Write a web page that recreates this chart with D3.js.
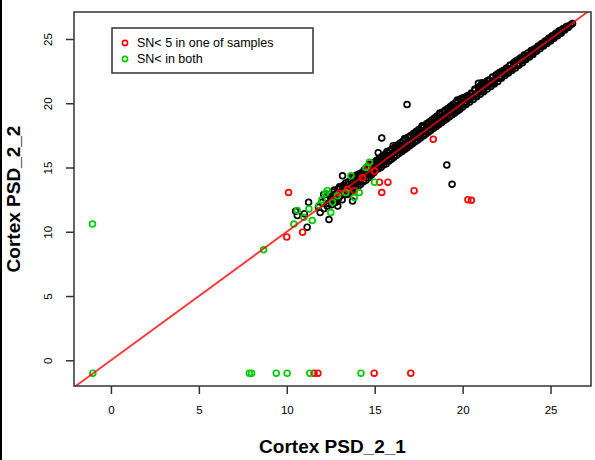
<!DOCTYPE html>
<html><head><meta charset="utf-8">
<script src="https://cdn.jsdelivr.net/npm/d3@7"></script>
<style>body{margin:0;background:#fff}svg{display:block}text{font-family:"Liberation Sans",Arial,sans-serif}</style>
</head><body>
<script>
// ---- data ----
const xTicks = [0, 5, 10, 15, 20, 25];
const yTicks = [0, 5, 10, 15, 20, 25];
const xTitle = "Cortex PSD_2_1";
const yTitle = "Cortex PSD_2_2";
const legendLabels = ["SN< 5 in one of samples", "SN< in both"];

const blackPoints = [
[11.8,11.9],[11.9,11.5],[12.0,12.3],[12.1,11.8],[12.2,12.6],[12.3,12.0],[12.35,12.9],[12.4,12.2],[12.5,12.7],[12.55,12.1],
[12.6,13.1],[12.7,12.4],[12.75,12.9],[12.8,12.3],[12.9,13.3],[12.95,12.6],[13.0,13.5],[13.05,12.8],[13.1,13.0],[13.15,12.5],
[13.2,13.6],[13.25,13.1],[13.3,12.9],[13.35,13.8],[13.4,13.3],[13.45,12.9],[13.5,13.9],[13.55,13.4],[13.6,13.1],[13.65,14.0],
[13.7,13.6],[13.75,13.2],[13.8,14.2],[13.85,13.7],[13.9,13.4],[13.95,14.4],[14.0,13.9],[14.05,13.5],[14.1,14.5],[14.15,14.0],
[14.2,13.7],[14.25,14.6],[14.3,14.2],[14.35,13.9],[14.4,14.8],[14.45,14.4],[14.5,14.0],[14.55,14.9],[14.6,14.5],[14.65,14.2],
[14.7,15.1],[14.75,14.7],[14.8,14.4],[14.85,15.2],[14.9,14.9],[14.95,14.6],[15.0,15.3],
[15.05,14.8],[15.1,15.55],[15.15,15.1],[15.2,14.9],[15.25,15.7],[15.3,15.2],[15.35,15.0],[15.4,15.85],[15.45,15.4],[15.5,15.2],
[15.55,16.0],[15.6,15.6],[15.65,15.3],[15.7,16.15],[15.75,15.8],[15.8,15.5],[15.85,16.3],[15.9,15.95],[15.95,15.65],[16.0,16.45],
[16.05,16.1],[16.1,15.8],[16.15,16.6],[16.2,16.25],[16.25,15.95],[16.3,16.75],[16.35,16.4],[16.4,16.1],[16.45,16.9],[16.5,16.55],
[16.55,16.25],[16.6,17.05],[16.65,16.7],[16.7,16.4],[16.75,17.2],[16.8,16.85],[16.85,16.55],[16.9,17.35],[16.95,17.0],[17.0,16.7],
[17.05,17.5],[17.1,17.15],[17.15,16.85],[17.2,17.65],[17.25,17.3],[17.3,17.0],[17.35,17.8],[17.4,17.45],[17.45,17.15],[17.5,17.95],
[17.55,17.6],[17.6,17.3],[17.65,18.1],[17.7,17.75],[17.75,17.45],[17.8,18.25],[17.85,17.9],[17.9,17.6],[17.95,18.4],[18.0,18.05],
[18.05,17.75],[18.1,18.55],[18.15,18.2],[18.2,17.9],[18.25,18.7],[18.3,18.35],[18.35,18.05],[18.4,18.85],[18.45,18.5],[18.5,18.2],
[18.55,19.0],[18.6,18.65],[18.65,18.35],[18.7,19.15],[18.75,18.8],[18.8,18.5],[18.85,19.3],[18.9,18.95],[18.95,18.65],[19.0,19.45],
[19.05,19.1],[19.1,18.8],[19.15,19.6],[19.2,19.25],[19.25,18.95],[19.3,19.75],[19.35,19.4],[19.4,19.1],[19.45,19.9],[19.5,19.55],
[19.55,19.25],[19.6,20.05],[19.65,19.7],[19.7,19.4],[19.75,20.2],[19.8,19.85],[19.85,19.55],[19.9,20.35],[19.95,20.0],[20.0,19.7],
[20.1,20.45],[20.15,20.1],[20.2,19.9],[20.3,20.6],[20.35,20.25],[20.4,20.1],[20.5,20.8],[20.55,20.5],[20.6,20.3],[20.7,21.0],
[20.75,20.7],[20.8,20.5],[20.9,21.2],[20.95,20.9],[21.0,20.7],[21.1,21.45],[21.15,21.1],[21.2,20.9],[21.3,21.6],[21.35,21.3],
[21.4,21.1],[21.5,21.8],[21.55,21.5],[21.6,21.3],[21.7,22.0],[21.75,21.7],[21.8,21.5],[21.9,22.2],[21.95,21.9],[22.0,21.7],
[22.1,22.4],[22.15,22.1],[22.2,21.95],[22.3,22.55],[22.35,22.3],[22.4,22.15],[22.5,22.75],[22.55,22.5],[22.6,22.35],[22.7,22.95],
[22.75,22.7],[22.8,22.55],[22.9,23.15],[22.95,22.9],[23.0,22.75],[23.1,23.35],[23.15,23.1],[23.2,22.95],[23.3,23.55],[23.35,23.3],
[23.4,23.15],[23.5,23.75],[23.55,23.5],[23.6,23.4],[23.7,23.9],[23.75,23.7],[23.8,23.6],[23.9,24.1],[23.95,23.9],[24.0,23.8],
[24.1,24.25],[24.2,24.05],[24.3,24.45],[24.4,24.25],[24.5,24.65],[24.6,24.45],[24.7,24.85],[24.8,24.65],[24.9,25.05],[25.0,24.85],
[25.1,25.25],[25.2,25.05],[25.3,25.45],[25.4,25.25],[25.5,25.65],[25.6,25.45],[25.7,25.8],[25.8,25.7],[25.9,25.95],[26.0,25.9],
[20.9,21.55],[21.4,21.75],[21.1,21.6],
[15.4,17.3],[16.05,16.7],[15.2,16.15],[19.1,15.2],[19.4,13.7],[16.84,19.9],
[11.24,12.3],[10.6,11.27],[12.4,10.96],[11.16,10.36],[13.74,12.4],[13.17,14.35],[10.5,11.6],[11.0,11.4],[12.1,12.9],[12.9,12.0]
];

const blackFill = [
[12.5,12.7],[12.6,12.5],[12.7,13.25],[12.8,12.5],[12.9,12.95],[13.0,13.4],[13.1,12.9],[13.2,13.5],[13.3,13.4],[13.4,13.35],
[13.5,13.7],[13.6,13.5],[13.7,14.25],[13.8,13.5],[13.9,13.95],[14.0,14.4],[14.1,13.9],[14.2,14.5],[14.3,14.4],[14.4,14.35],
[14.5,14.7],[14.6,14.5],[14.7,15.25],[14.8,14.5],[14.9,14.95],[15.0,15.4],[15.1,14.9],[15.2,15.5],[15.3,15.4],[15.4,15.35],
[15.5,15.7],[15.6,15.5],[15.7,16.25],[15.8,15.5],[15.9,15.95],[16.0,16.4],[16.1,15.9],[16.2,16.5],[16.3,16.4],[16.4,16.35],
[16.5,16.7],[16.6,16.5],[16.7,17.25],[16.8,16.5],[16.9,16.95],[17.0,17.4],[17.1,16.9],[17.2,17.5],[17.3,17.4],[17.4,17.35],
[17.5,17.7],[17.6,17.5],[17.7,18.25],[17.8,17.5],[17.9,17.95],[18.0,18.4],[18.1,17.9],[18.2,18.5],[18.3,18.4],[18.4,18.35],
[18.5,18.7],[18.6,18.5],[18.7,19.25],[18.8,18.5],[18.9,18.95],[19.0,19.4],[19.1,18.9],[19.2,19.5],[19.3,19.4],[19.4,19.35],
[19.5,19.7],[19.6,19.5],[19.7,20.25],[19.8,19.5],[19.9,19.95],[20.0,20.4],[20.1,19.9],[20.2,20.5],[20.3,20.4],[20.4,20.35],
[20.5,20.7],[20.6,20.5],[20.7,21.1],[20.8,20.55],[20.9,20.95],[21.0,21.35],[21.1,20.9],[21.2,21.45],[21.3,21.4],[21.4,21.35],
[21.5,21.7],[21.6,21.5],[21.7,22.05],[21.8,21.6],[21.9,21.95],[22.0,22.3],[22.1,21.95],[22.2,22.45],[22.3,22.4],[22.4,22.35],
[22.5,22.65],[22.6,22.5],[22.7,22.95],[22.8,22.65],[22.9,22.95],[23.0,23.25],[23.1,22.95],[23.2,23.4],[23.3,23.35],[23.4,23.35],
[23.5,23.65],[23.6,23.55],[23.7,23.9],[23.8,23.7],[23.9,23.95],[24.0,24.15],[24.15,24.1],[24.25,24.35],[24.35,24.35],[24.45,24.55],
[24.55,24.55],[24.65,24.75],[24.75,24.75],[24.85,24.95],[24.95,24.95],[25.05,25.15],[25.15,25.15],[25.25,25.35],[25.35,25.35],[25.45,25.55],
[25.55,25.55],[25.65,25.7],[25.75,25.8],[25.85,25.85],[25.95,26.0],[26.05,26.0],[26.15,26.1],[26.25,26.2]
];

const redPoints = [
[10.1,13.06],[10.0,9.6],[10.9,9.97],[13.45,13.3],[13.84,13.2],[14.6,15.1],[15.0,14.7],[15.27,13.86],[15.75,13.86],
[15.4,13.06],[17.24,13.2],[20.3,12.5],[20.5,12.45],[18.33,17.2],[13.0,13.0],[14.3,14.2],
[11.55,-1],[11.77,-1],[14.97,-1],[17.05,-1]
];

const greenPoints = [
[-1.03,-1],[-1.05,10.6],[8.68,8.6],[10.4,10.6],[10.6,11.65],[11.26,11.78],[11.83,12.04],[12.31,13.2],[12.6,12.3],[12.5,11.5],
[12.88,12.8],[13.65,14.35],[14.12,13.06],[14.5,15.0],[14.7,15.4],[14.99,13.86],[13.36,13.06],[13.84,12.67],[10.97,11.13],[11.45,10.88],
[12.0,12.5],[12.2,13.0],
[7.87,-1],[8.0,-1],[9.4,-1],[10.02,-1],[11.31,-1],[14.22,-1]
];

// ---- chart ----
const W = 595, H = 460;
const frame = {left: 74, right: 591, top: 12, bottom: 386};
const svg = d3.select("body").append("svg").attr("width", W).attr("height", H);

const x = d3.scaleLinear().domain([-2.1, 27.3]).range([frame.left, frame.right]);
const y = d3.scaleLinear().domain([-2.0, 27.1]).range([frame.bottom, frame.top]);

// image left border
svg.append("line").attr("x1",1).attr("x2",1).attr("y1",0).attr("y2",H).attr("stroke","#000").attr("stroke-width",2);

const clipId = "plotclip";
svg.append("clipPath").attr("id", clipId).append("rect")
  .attr("x", frame.left).attr("y", frame.top)
  .attr("width", frame.right - frame.left).attr("height", frame.bottom - frame.top);

const plot = svg.append("g").attr("clip-path", `url(#${clipId})`);

function drawPts(data, color) {
  plot.append("g").selectAll("circle").data(data).join("circle")
    .attr("cx", d => x(d[0])).attr("cy", d => y(d[1])).attr("r", 2.9)
    .attr("fill", "none").attr("stroke", color).attr("stroke-width", 1.7);
}
drawPts(blackPoints, "#000");
drawPts(blackFill, "#000");
drawPts(redPoints, "#ff0000");
drawPts(greenPoints, "#00cc00");

// identity line
const lo = -5, hi = 30;
plot.append("line").attr("x1", x(lo)).attr("y1", y(lo)).attr("x2", x(hi)).attr("y2", y(hi))
  .attr("stroke", "#ff0000").attr("stroke-opacity", 0.8).attr("stroke-width", 1.8);

// frame
svg.append("rect").attr("x", frame.left).attr("y", frame.top)
  .attr("width", frame.right - frame.left).attr("height", frame.bottom - frame.top)
  .attr("fill", "none").attr("stroke", "#333").attr("stroke-width", 1.5);

// axes
const xAxis = svg.append("g").attr("transform", `translate(0,${frame.bottom})`)
  .call(d3.axisBottom(x).tickValues(xTicks).tickSize(8).tickPadding(12).tickFormat(d3.format("d")));
const yAxis = svg.append("g").attr("transform", `translate(${frame.left},0)`)
  .call(d3.axisLeft(y).tickValues(yTicks).tickSize(8).tickPadding(0).tickFormat(d3.format("d")));
[xAxis, yAxis].forEach(a => {
  a.select(".domain").remove();
  a.selectAll(".tick line").attr("stroke", "#333").attr("stroke-width", 1.5);
  a.selectAll("text").attr("font-size", 11.5).attr("fill", "#000").attr("font-family", "Liberation Sans, Arial, sans-serif");
});
yAxis.selectAll(".tick text").attr("x", null).attr("dy", null)
  .attr("text-anchor", "middle")
  .attr("transform", "translate(-26,0) rotate(-90)")
  .attr("y", 4);

// titles
svg.append("text").attr("x", (frame.left + frame.right) / 2).attr("y", 453)
  .attr("text-anchor", "middle").attr("font-weight", "bold").attr("font-size", 19).text(xTitle);
svg.append("text").attr("transform", `translate(20,${(frame.top + frame.bottom) / 2}) rotate(-90)`)
  .attr("text-anchor", "middle").attr("font-weight", "bold").attr("font-size", 19).text(yTitle);

// legend
const lg = svg.append("g");
lg.append("rect").attr("x", 112).attr("y", 28).attr("width", 201).attr("height", 45)
  .attr("fill", "#fff").attr("stroke", "#333").attr("stroke-width", 1.5);
const legColors = ["#ff0000", "#00cc00"];
legendLabels.forEach((t, i) => {
  lg.append("circle").attr("cx", 125).attr("cy", 43 + i * 16).attr("r", 2.6)
    .attr("fill", "none").attr("stroke", legColors[i]).attr("stroke-width", 1.6);
  lg.append("text").attr("x", 137).attr("y", 47 + i * 16).attr("font-size", 12.5).text(t);
});
</script>
</body></html>
